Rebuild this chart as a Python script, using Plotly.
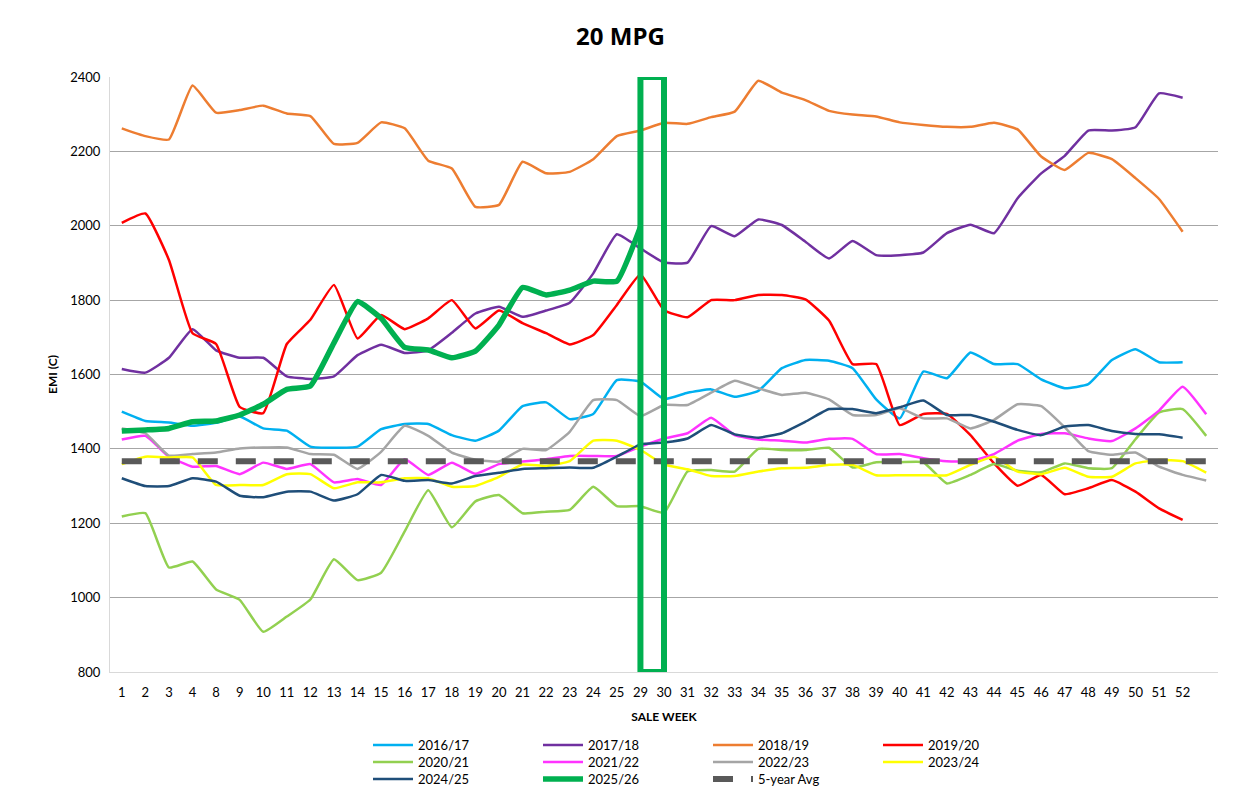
import plotly.graph_objects as go

weeks = ["1", "2", "3", "4", "8", "9", "10", "11", "12", "13", "14", "15", "16", "17",
         "18", "19", "20", "21", "22", "23", "24", "25", "29", "30", "31", "32", "33",
         "34", "35", "36", "37", "38", "39", "40", "41", "42", "43", "44", "45", "46",
         "47", "48", "49", "50", "51", "52", " "]

s2016_17 = [1500, 1475, 1471, 1462, 1470, 1487, 1455, 1449, 1406, 1403, 1406, 1453, 1467, 1467,
            1437, 1422, 1449, 1515, 1525, 1480, 1494, 1585, 1581, 1534, 1551, 1560, 1540,
            1556, 1617, 1639, 1637, 1617, 1533, 1482, 1608, 1590, 1659, 1628, 1628, 1587,
            1563, 1574, 1639, 1668, 1633, 1633]
s2017_18 = [1615, 1605, 1645, 1722, 1665, 1645, 1645, 1595, 1588, 1595, 1652, 1680, 1658, 1665,
            1712, 1764, 1782, 1755, 1772, 1793, 1872, 1977, 1939, 1901, 1901, 1999, 1972,
            2017, 2002, 1957, 1912, 1959, 1921, 1921, 1928, 1980, 2003, 1980, 2074, 2141,
            2188, 2256, 2256, 2265, 2356, 2344]
s2018_19 = [2262, 2241, 2232, 2377, 2304, 2311, 2323, 2302, 2295, 2220, 2223, 2278, 2262, 2175,
            2154, 2051, 2056, 2172, 2141, 2145, 2179, 2241, 2256, 2277, 2274, 2292, 2307,
            2390, 2358, 2338, 2309, 2299, 2294, 2278, 2271, 2266, 2266, 2277, 2259, 2186,
            2150, 2196, 2179, 2128, 2072, 1984]
s2019_20 = [2008, 2033, 1908, 1711, 1682, 1513, 1496, 1682, 1747, 1841, 1697, 1760, 1722, 1751,
            1800, 1724, 1772, 1738, 1711, 1681, 1706, 1787, 1869, 1773, 1754, 1800, 1800,
            1814, 1814, 1802, 1745, 1628, 1628, 1464, 1494, 1494, 1437, 1361, 1301, 1330,
            1278, 1294, 1316, 1285, 1240, 1209]
s2020_21 = [1218, 1227, 1081, 1097, 1022, 994, 908, 949, 995, 1103, 1047, 1067, 1178, 1289,
            1189, 1259, 1276, 1227, 1231, 1236, 1298, 1246, 1246, 1228, 1339, 1343, 1339,
            1400, 1397, 1397, 1403, 1350, 1364, 1364, 1364, 1307, 1330, 1359, 1341, 1337,
            1361, 1348, 1348, 1426, 1498, 1507, 1435]
s2021_22 = [1425, 1435, 1379, 1352, 1354, 1332, 1363, 1346, 1359, 1310, 1319, 1303, 1372, 1330,
            1363, 1333, 1359, 1366, 1372, 1381, 1381, 1381, 1406, 1428, 1442, 1484, 1437,
            1425, 1422, 1417, 1427, 1427, 1386, 1386, 1375, 1367, 1367, 1386, 1422, 1440,
            1442, 1428, 1421, 1455, 1503, 1567, 1493]
s2022_23 = [1455, 1442, 1382, 1386, 1390, 1401, 1404, 1404, 1386, 1384, 1346, 1392, 1462, 1435,
            1390, 1371, 1366, 1400, 1397, 1446, 1531, 1531, 1488, 1518, 1518, 1551, 1583,
            1563, 1545, 1551, 1533, 1491, 1491, 1509, 1482, 1482, 1455, 1478, 1520, 1515,
            1458, 1394, 1384, 1390, 1352, 1330, 1315]
s2023_24 = [1359, 1379, 1377, 1377, 1303, 1303, 1303, 1332, 1332, 1294, 1310, 1310, 1321, 1321,
            1298, 1300, 1325, 1358, 1354, 1367, 1422, 1422, 1397, 1358, 1345, 1327, 1327,
            1339, 1348, 1349, 1357, 1357, 1329, 1329, 1329, 1329, 1357, 1379, 1339, 1332,
            1349, 1325, 1325, 1361, 1370, 1367, 1336]
s2024_25 = [1321, 1300, 1300, 1321, 1312, 1274, 1270, 1285, 1285, 1261, 1278, 1330, 1314, 1316,
            1307, 1327, 1336, 1346, 1348, 1350, 1349, 1379, 1412, 1417, 1428, 1464, 1439,
            1430, 1442, 1473, 1507, 1507, 1496, 1512, 1530, 1491, 1491, 1473, 1451, 1437,
            1460, 1464, 1448, 1440, 1439, 1430]
s2025_26 = [1448, 1451, 1455, 1473, 1475, 1491, 1520, 1560, 1569, 1685, 1796, 1751, 1673, 1666,
            1645, 1663, 1733, 1834, 1814, 1827, 1851, 1851, 1997]
avg5 = [1367] * 47

highlight_weeks = ("29", "30")

series = [
    ("2016/17", s2016_17, "#00B0F0", 2.5, "legend"),
    ("2017/18", s2017_18, "#7030A0", 2.5, "legend"),
    ("2018/19", s2018_19, "#ED7D31", 2.5, "legend"),
    ("2019/20", s2019_20, "#FF0000", 2.5, "legend"),
    ("2020/21", s2020_21, "#92D050", 2.5, "legend2"),
    ("2021/22", s2021_22, "#FF33FF", 2.5, "legend2"),
    ("2022/23", s2022_23, "#A5A5A5", 2.5, "legend2"),
    ("2023/24", s2023_24, "#FFFF00", 2.5, "legend2"),
    ("2024/25", s2024_25, "#1F4E79", 2.5, "legend3"),
    ("2025/26", s2025_26, "#00B050", 5.5, "legend3"),
]

fig = go.Figure()
for name, vals, color, w, lg in series:
    fig.add_trace(go.Scatter(
        x=weeks[:len(vals)], y=vals, name=name, mode="lines", legend=lg,
        line=dict(color=color, width=w, shape="spline", smoothing=0.4),
    ))
fig.add_trace(go.Scatter(
    x=weeks, y=avg5, name="5-year Avg", mode="lines", legend="legend3",
    line=dict(color="#595959", width=6, dash="20px,18px"),
))

# highlight box (category index positions on the category axis)
i0 = weeks.index(highlight_weeks[0])
i1 = weeks.index(highlight_weeks[1])
fig.add_shape(type="rect", xref="x", yref="y", x0=i0, x1=i1, y0=800, y1=2400,
              line=dict(color="#00B050", width=6), fillcolor="rgba(0,0,0,0)", layer="above")

font_family = "Lato, 'Open Sans', sans-serif"
W, H = 1225, 802


def legend_row(top_px):
    return dict(orientation="h", xref="container", x=360 / W, xanchor="left",
                yref="container", y=1 - top_px / H, yanchor="top",
                entrywidth=115, entrywidthmode="pixels", itemwidth=40,
                tracegroupgap=0, bgcolor="rgba(0,0,0,0)",
                font=dict(size=13, family=font_family), traceorder="normal")


fig.update_layout(
    width=W, height=H,
    paper_bgcolor="white", plot_bgcolor="white",
    margin=dict(l=102, r=15, t=69, b=138, autoexpand=False),
    title=dict(text="<b>20 MPG</b>", x=0.5, xref="container", xanchor="center",
               y=1 - 29 / H, yref="container", yanchor="middle",
               font=dict(family="'Open Sans', sans-serif", size=24, color="black")),
    font=dict(family=font_family, size=13, color="black"),
    showlegend=True,
    legend=legend_row(722),
    legend2=legend_row(739),
    legend3=legend_row(756),
    xaxis=dict(type="category", categoryorder="array", categoryarray=weeks,
               range=[-0.5, len(weeks) - 0.5],
               showgrid=False, showline=True, linecolor="#D9D9D9", linewidth=1,
               ticks="outside", ticklen=8, tickcolor="white", tickfont=dict(size=13),
               title=dict(text="<b>SALE WEEK</b>", font=dict(size=12), standoff=14),
               zeroline=False),
    yaxis=dict(range=[800, 2400], dtick=200, showgrid=True, gridcolor="#A6A6A6",
               gridwidth=1, showline=True, linecolor="#D9D9D9", linewidth=1,
               ticks="outside", ticklen=6, tickcolor="white",
               tickfont=dict(size=13), zeroline=False,
               title=dict(text="<b>EMI (C)</b>", font=dict(size=12), standoff=10)),
)

fig.write_html("out.html")
